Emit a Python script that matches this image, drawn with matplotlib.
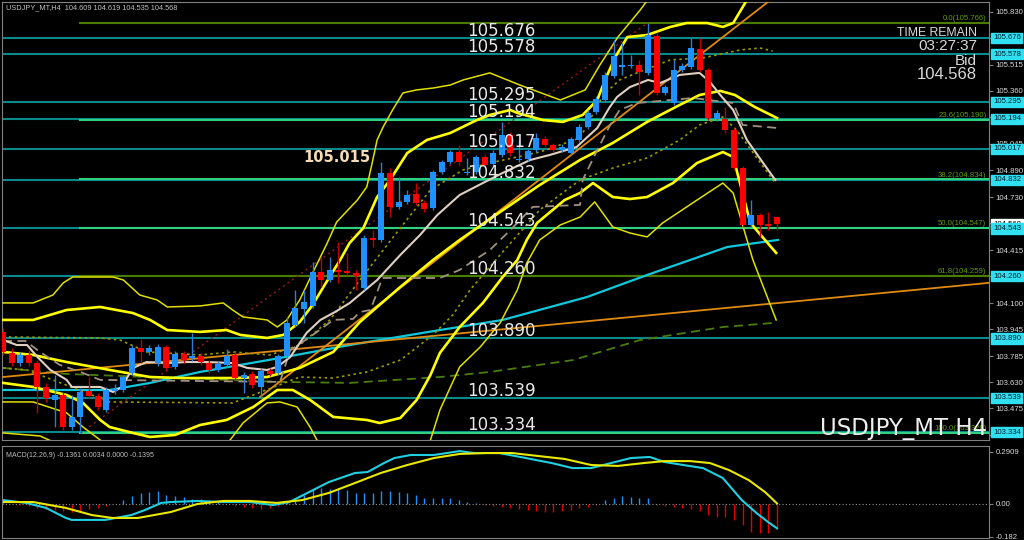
import numpy as np
import matplotlib.pyplot as plt

# ---- candles (H4 bars, index 0..90) ----
opens = [103.929, 103.804, 103.744, 103.792, 103.744, 103.602, 103.525, 103.554, 103.364, 103.424,
         103.578, 103.549, 103.465, 103.578, 103.584, 103.685, 103.834, 103.810, 103.744, 103.839,
         103.721, 103.798, 103.774, 103.786, 103.744, 103.703, 103.733, 103.792, 103.655, 103.679,
         103.602, 103.697, 103.685, 103.786, 103.970, 104.065, 104.083, 104.285, 104.237, 104.297,
         104.291, 104.279, 104.190, 104.487, 104.475, 104.873, 104.671, 104.700, 104.748, 104.695,
         104.665, 104.879, 104.938, 104.997, 104.873, 104.879, 104.968, 104.926, 104.980, 105.098,
         104.950, 104.956, 105.009, 105.075, 105.039, 105.009, 104.991, 105.069, 105.146, 105.235,
         105.306, 105.449, 105.502, 105.508, 105.514, 105.467, 105.686, 105.348, 105.288, 105.484,
         105.502, 105.609, 105.484, 105.193, 105.193, 105.128, 104.902, 104.564, 104.623, 104.570, 104.609]
highs = [103.952, 103.834, 103.810, 103.822, 103.762, 103.626, 103.673, 103.572, 103.554, 103.596,
         103.661, 103.566, 103.602, 103.620, 103.673, 103.851, 103.887, 103.851, 103.857, 103.851,
         103.816, 103.816, 103.923, 103.804, 103.762, 103.756, 103.828, 103.810, 103.691, 103.697,
         103.715, 103.715, 103.798, 104.018, 104.178, 104.178, 104.344, 104.374, 104.374, 104.463,
         104.398, 104.297, 104.505, 104.534, 104.938, 104.902, 104.849, 104.772, 104.813, 104.712,
         104.891, 104.950, 105.009, 105.039, 104.962, 104.980, 104.986, 105.009, 105.176, 105.116,
         105.069, 105.015, 105.110, 105.092, 105.051, 105.045, 105.086, 105.164, 105.247, 105.330,
         105.472, 105.662, 105.645, 105.573, 105.544, 105.766, 105.704, 105.395, 105.544, 105.526,
         105.674, 105.674, 105.496, 105.247, 105.265, 105.140, 104.914, 104.712, 104.635, 104.641, 104.619]
lows = [103.792, 103.727, 103.727, 103.727, 103.448, 103.513, 103.364, 103.347, 103.347, 103.328,
        103.537, 103.465, 103.454, 103.560, 103.572, 103.673, 103.744, 103.792, 103.727, 103.697,
        103.709, 103.744, 103.756, 103.733, 103.685, 103.691, 103.721, 103.644, 103.566, 103.596,
        103.543, 103.667, 103.673, 103.774, 103.958, 103.982, 104.071, 104.196, 104.226, 104.220,
        104.267, 104.178, 104.178, 104.433, 104.463, 104.611, 104.659, 104.689, 104.683, 104.641,
        104.653, 104.867, 104.926, 104.920, 104.861, 104.867, 104.908, 104.914, 104.968, 104.974,
        104.938, 104.944, 104.997, 105.027, 104.997, 104.997, 104.980, 105.057, 105.134, 105.223,
        105.294, 105.437, 105.455, 105.496, 105.336, 105.455, 105.336, 105.336, 105.277, 105.472,
        105.490, 105.472, 105.187, 105.181, 105.110, 104.891, 104.552, 104.552, 104.493, 104.534, 104.535]
closes = [103.810, 103.744, 103.792, 103.744, 103.602, 103.537, 103.554, 103.364, 103.424, 103.572,
          103.549, 103.483, 103.584, 103.590, 103.661, 103.834, 103.810, 103.834, 103.839, 103.715,
          103.798, 103.762, 103.786, 103.750, 103.703, 103.738, 103.786, 103.655, 103.673, 103.614,
          103.697, 103.679, 103.786, 103.982, 104.071, 104.107, 104.285, 104.237, 104.297, 104.285,
          104.279, 104.261, 104.487, 104.475, 104.873, 104.671, 104.700, 104.742, 104.695, 104.659,
          104.879, 104.938, 104.997, 104.938, 104.879, 104.968, 104.920, 104.991, 105.098, 104.991,
          104.956, 105.003, 105.081, 105.039, 105.009, 105.027, 105.075, 105.146, 105.229, 105.312,
          105.455, 105.567, 105.514, 105.514, 105.472, 105.692, 105.348, 105.383, 105.484, 105.508,
          105.615, 105.484, 105.199, 105.229, 105.128, 104.902, 104.564, 104.623, 104.564, 104.558, 104.568]

# ---- indicator lines (bar index, price) ----
cyan_x = [0, 12.4, 17.1, 22.9, 32.2, 40.3, 50.8, 58.1, 67.9, 74.9, 79.9, 84.2, 90.1]
cyan_y = [103.584, 103.584, 103.626, 103.691, 103.774, 103.851, 103.940, 104.000, 104.136, 104.267, 104.356, 104.433, 104.475]

beige_x = [0, 1.6, 2.8, 4.0, 5.5, 7.4, 8.0, 11.3, 12.8, 13.8, 15.1, 16.7, 19.1, 21.4, 23.7, 26.7, 28.4, 30.7,
           31.9, 33.4, 35.3, 36.9, 38.6, 40.3, 43.5, 46.2, 48.5, 50.5, 53.1, 55.8, 58.1, 61.3, 63.6, 66.7,
           69.1, 70.5, 71.4, 72.9, 75.0, 76.4, 78.7, 81.0, 82.2, 83.4, 84.9, 86.5, 88.0, 89.8]
beige_y = [103.881, 103.851, 103.851, 103.780, 103.703, 103.644, 103.602, 103.602, 103.572, 103.602, 103.715,
           103.750, 103.744, 103.750, 103.750, 103.744, 103.715, 103.703, 103.721, 103.780, 103.923, 104.000,
           104.047, 104.100, 104.237, 104.386, 104.505, 104.623, 104.742, 104.813, 104.873, 104.950, 104.980,
           105.027, 105.140, 105.260, 105.324, 105.383, 105.425, 105.407, 105.455, 105.467, 105.413, 105.336,
           105.247, 105.069, 104.960, 104.831]

kijun_x = [0, 2.6, 4.3, 6.6, 9.0, 11.3, 32.2, 33.4, 35.7, 38.4, 40.7, 41.5, 42.7, 43.3, 44.1, 50.8, 53.1,
           56.6, 59.0, 61.6, 67.1, 67.4, 69.1, 70.6, 71.7, 73.7, 80.2, 84.9, 86.0, 90.0]
kijun_y = [103.875, 103.875, 103.810, 103.733, 103.691, 103.644, 103.632, 103.821, 103.899, 104.000, 104.006,
           104.047, 104.059, 104.136, 104.249, 104.249, 104.297, 104.415, 104.534, 104.671, 104.683, 104.831,
           105.009, 105.158, 105.247, 105.288, 105.318, 105.288, 105.158, 105.140]

ma_long_x = [0, 7.4, 32.2, 40.3, 50.8, 56.6, 66.3, 74.1, 83.7, 89.5]
ma_long_y = [103.715, 103.679, 103.632, 103.626, 103.661, 103.691, 103.762, 103.881, 103.958, 103.982]

bb_mid_x = [0, 2.8, 12.4, 26.7, 34.5, 38.4, 42.3, 46.2, 50.0, 52.3, 54.3, 57.8, 62.4, 67.1, 70.9, 74.9,
            78.7, 81.0, 83.7, 85.3, 87.4, 89.8]
bb_mid_y = [103.715, 103.703, 103.513, 103.507, 103.661, 103.655, 103.691, 103.762, 103.911, 104.030, 104.178,
            104.386, 104.653, 104.831, 104.902, 104.962, 105.069, 105.158, 105.205, 105.128, 104.980, 104.813]

bb_dot_up_x = [0, 11.3, 13.6, 16.7, 22.9, 26.7, 31.0, 34.5, 38.0, 41.5, 46.2, 49.7, 53.5, 56.6, 62.4, 67.1,
               69.8, 71.7, 73.7, 77.6, 81.4, 85.7, 88.0, 89.5]
bb_dot_up_y = [103.899, 103.893, 103.881, 103.810, 103.792, 103.810, 103.792, 103.851, 104.000, 104.237, 104.546,
               104.772, 104.891, 104.932, 104.997, 105.081, 105.336, 105.425, 105.467, 105.544, 105.556, 105.603,
               105.615, 105.597]

bb_up1_x = [0, 3.5, 7.4, 12.4, 17.1, 20.9, 26.7, 30.7, 34.5, 38.4, 41.5, 46.2, 50.0, 53.1, 57.8, 62.4, 67.1,
            70.9, 74.9, 78.7, 81.0, 83.4, 85.1, 87.4, 90.0]
bb_up1_y = [103.810, 103.792, 103.750, 103.703, 103.661, 103.655, 103.655, 103.661, 103.715, 103.810, 103.988,
            104.196, 104.356, 104.475, 104.641, 104.801, 104.950, 105.051, 105.176, 105.277, 105.336, 105.360,
            105.336, 105.265, 105.199]

bb_dn1_x = [0, 3.5, 7.4, 9.3, 11.3, 12.4, 15.1, 17.1, 20.0, 22.9, 26.0, 29.1, 31.9, 33.7, 35.7, 38.4, 42.3,
            43.8, 46.2, 48.1, 49.7, 50.8, 53.1, 55.8, 58.1, 59.8, 60.9, 62.1, 65.3, 67.1, 68.6, 70.9, 72.9,
            74.9, 77.9, 80.7, 83.7, 84.9, 86.9, 89.9]
bb_dn1_y = [103.626, 103.602, 103.554, 103.507, 103.406, 103.364, 103.329, 103.305, 103.317, 103.376, 103.406,
            103.483, 103.584, 103.584, 103.525, 103.424, 103.406, 103.388, 103.418, 103.525, 103.673, 103.804,
            103.958, 104.101, 104.255, 104.356, 104.475, 104.576, 104.712, 104.754, 104.813, 104.730, 104.718,
            104.730, 104.813, 104.932, 104.997, 104.968, 104.576, 104.398]

bb_up2_x = [0, 3.5, 7.4, 11.3, 15.1, 17.1, 19.1, 22.9, 26.0, 27.6, 30.7, 32.6, 34.5, 36.0, 37.4, 39.2, 40.3,
            41.9, 43.5, 45.0, 47.0, 49.3, 52.0, 55.1, 56.6, 59.0, 59.8, 62.8, 65.1, 67.4, 69.1, 70.0, 71.2,
            72.6, 74.9, 77.6, 79.5, 81.9, 83.7, 84.9, 86.5, 87.4]
bb_up2_y = [104.000, 104.000, 104.059, 104.077, 104.041, 104.000, 103.940, 103.929, 103.940, 103.911, 103.893,
            103.911, 103.988, 104.089, 104.208, 104.356, 104.457, 104.546, 104.730, 104.831, 104.991, 105.069,
            105.110, 105.187, 105.217, 105.247, 105.229, 105.187, 105.176, 105.217, 105.306, 105.425, 105.562,
            105.680, 105.692, 105.740, 105.763, 105.763, 105.740, 105.763, 105.900, 105.971]

bb_dn2_x = [0, 3.5, 7.4, 9.3, 11.3, 13.0, 22.9, 26.4, 27.9, 30.7, 32.2, 34.2, 35.7, 36.5, 38.0, 47.9, 49.7,
            50.8, 53.1, 55.5, 57.8, 59.8, 60.9, 62.4, 64.8, 67.1, 68.8, 70.9, 72.9, 74.9, 76.7, 80.7, 83.7,
            84.9, 87.2, 89.9]
bb_dn2_y = [103.513, 103.513, 103.448, 103.364, 103.287, 103.198, 103.139, 103.287, 103.388, 103.507, 103.513,
            103.483, 103.364, 103.287, 103.168, 103.139, 103.287, 103.465, 103.721, 103.840, 103.982, 104.178,
            104.338, 104.475, 104.564, 104.611, 104.701, 104.552, 104.516, 104.493, 104.576, 104.712, 104.813,
            104.754, 104.356, 104.000]

bb_up3_x = [0, 3.5, 5.8, 7.0, 8.1, 12.8, 14.0, 15.9, 17.9, 19.1, 22.9, 25.6, 26.7, 27.9, 30.7, 31.9, 33.0,
            34.5, 36.0, 37.7, 38.8, 41.2, 42.3, 43.0, 43.5, 44.2, 45.3, 46.5, 48.1, 50.0, 52.0, 53.5, 56.6,
            60.1, 64.8, 67.7, 69.4, 71.5, 74.1, 75.8]
bb_up3_y = [104.101, 104.101, 104.148, 104.220, 104.255, 104.255, 104.237, 104.148, 104.119, 104.077, 104.083,
            104.101, 104.059, 104.018, 104.000, 103.958, 104.000, 104.119, 104.279, 104.457, 104.582, 104.712,
            104.790, 104.950, 105.069, 105.146, 105.247, 105.348, 105.366, 105.377, 105.395, 105.425, 105.467,
            105.395, 105.306, 105.366, 105.514, 105.680, 105.841, 105.959]

bb_dn3_x = [0, 4.3, 6.6]
bb_dn3_y = [103.329, 103.311, 103.258]

# trend lines: (bar, price) end points
trend_long_x = [0, 114.6]
trend_long_y = [103.661, 104.220]
trend_up_x = [29.9, 90.5]
trend_up_y = [103.543, 105.950]
fib_diag_x = [9, 75]
fib_diag_y = [103.328, 105.766]

# horizontal levels
levels = [105.676, 105.578, 105.295, 105.194, 105.017, 104.832, 104.543, 104.260, 103.890, 103.539, 103.334]
fib_pct = ['0.0', '23.6', '38.2', '50.0', '61.8', '100.0']
fib_val = [105.766, 105.190, 104.834, 104.547, 104.259, 103.328]
fib_col = ['#4a7c00', '#2fd080', '#2fd080', '#2fd080', '#4a7c00', '#2fd080']
price_ticks = [105.830, 105.675, 105.515, 105.360, 105.205, 105.045, 104.890, 104.730, 104.575,
               104.415, 104.260, 104.100, 103.945, 103.785, 103.630, 103.475, 103.315]

# ---- MACD panel ----
macd_x = [0, 2.7, 5.0, 7.3, 8.0, 11.9, 14.9, 16.5, 18.4, 19.5, 22.6, 25.6, 28.7, 31.4, 33.3, 35.6, 37.9,
          40.9, 42.4, 44.3, 45.5, 47.4, 50.1, 53.1, 54.7, 57.7, 60.8, 63.8, 66.2, 68.4, 70.7, 73.0, 75.2,
          76.9, 79.1, 81.4, 83.7, 85.9, 87.6, 89.1, 90]
macd_y = [0.022, 0.006, -0.022, -0.078, -0.089, -0.089, -0.062, -0.034, 0.006, 0.011, 0.017, 0.011, 0.011,
          -0.006, 0.011, 0.067, 0.123, 0.173, 0.179, 0.229, 0.257, 0.274, 0.274, 0.296, 0.285, 0.285, 0.257,
          0.229, 0.201, 0.201, 0.229, 0.257, 0.263, 0.235, 0.218, 0.201, 0.145, 0.022, -0.050, -0.106, -0.136]
signal_x = [0, 3.5, 7.3, 10.35, 12.7, 15.7, 19.5, 22.6, 25.6, 28.7, 31.8, 34.8, 37.9, 40.9, 43.9, 47.0,
            50.1, 53.1, 56.2, 59.2, 62.3, 65.3, 68.4, 71.5, 74.5, 76.9, 79.9, 82.2, 84.4, 86.7, 88.6, 90]
signal_y = [0.011, 0.011, -0.022, -0.062, -0.078, -0.078, -0.045, 0.0, 0.017, 0.017, 0.006, 0.022, 0.062,
            0.117, 0.173, 0.218, 0.257, 0.280, 0.285, 0.285, 0.268, 0.252, 0.218, 0.213, 0.229, 0.240, 0.240,
            0.229, 0.190, 0.134, 0.067, 0.0034]
hist = [0.005, 0.0, -0.005, -0.01, -0.02, -0.03, -0.035, -0.04, -0.045, -0.04,
        -0.03, -0.02, -0.01, 0.0, 0.022, 0.045, 0.06, 0.067, 0.07, 0.05,
        0.045, 0.04, 0.03, 0.028, 0.022, 0.01, 0.0, -0.01, -0.015, -0.02,
        -0.03, -0.02, -0.01, 0.01, 0.022, 0.05, 0.082, 0.088, 0.082, 0.088,
        0.078, 0.06, 0.063, 0.06, 0.074, 0.074, 0.069, 0.063, 0.05, 0.032,
        0.032, 0.032, 0.032, 0.022, 0.013, 0.005, -0.005, -0.01, -0.015, -0.02,
        -0.03, -0.035, -0.04, -0.045, -0.045, -0.04, -0.035, -0.025, -0.015, -0.005,
        0.02, 0.035, 0.045, 0.04, 0.035, 0.035, -0.005, -0.01, -0.015, -0.02,
        -0.03, -0.04, -0.06, -0.07, -0.075, -0.09, -0.12, -0.155, -0.165, -0.16, -0.1395]

GRID = '#808080'
TXT = '#d8d8d8'
NARROW = 'Liberation Sans'

fig = plt.figure(figsize=(10.24, 5.4), dpi=100, facecolor='black')
ax = fig.add_axes([2 / 1024, 100 / 540, 987 / 1024, 438 / 540])
ax.set_facecolor('black')
ax.set_xlim(-0.12, 114.65)
ax.set_ylim(103.287, 105.888)

# levels + fib
for lv in levels:
    ax.axhline(lv, color='#0a8a8a', lw=1.5, zorder=1)
for pct, v, c in zip(fib_pct, fib_val, fib_col):
    ax.plot([9, 114.65], [v, v], color=c, lw=1.5, zorder=1.2)
    ax.text(114.35, v + 0.005, f'{pct}({v:.3f})', color='#5f9a10', fontsize=5.6, family=NARROW,
            ha='right', va='bottom', zorder=6)
ax.plot(fib_diag_x, fib_diag_y, color='#9a1a1a', lw=1, ls=(0, (1.5, 2.5)), zorder=2)

# moving averages / bands
ax.plot(ma_long_x, ma_long_y, color='#4a7c10', lw=1.3, ls=(0, (5, 3)), zorder=2)
ax.plot(cyan_x, cyan_y, color='#10c8dc', lw=1.6, zorder=3)
ax.plot(trend_long_x, trend_long_y, color='#e08a10', lw=1.3, zorder=3)
ax.plot(trend_up_x, trend_up_y, color='#e08a10', lw=1.3, zorder=3)
ax.plot(bb_mid_x, bb_mid_y, color='#9a9a00', lw=1.2, ls=(0, (1.5, 2)), zorder=3)
ax.plot(bb_dot_up_x, bb_dot_up_y, color='#9a9a00', lw=1.2, ls=(0, (1.5, 2)), zorder=3)
ax.plot(bb_up3_x, bb_up3_y, color='#e0e000', lw=1.1, zorder=3)
ax.plot(bb_dn3_x, bb_dn3_y, color='#e0e000', lw=1.1, zorder=3)
ax.plot(bb_dn2_x, bb_dn2_y, color='#e0e000', lw=1.1, zorder=3)
ax.plot(bb_up2_x, bb_up2_y, color='#ffff00', lw=1.9, zorder=3)
ax.plot(bb_up1_x, bb_up1_y, color='#ffff00', lw=1.9, zorder=3)
ax.plot(bb_dn1_x, bb_dn1_y, color='#ffff00', lw=1.9, zorder=3)
ax.plot(kijun_x, kijun_y, color='#a09080', lw=1.3, ls=(0, (5, 3)), zorder=3)
ax.plot(beige_x, beige_y, color='#e0cfc0', lw=1.5, zorder=3)

# candles
idx = np.arange(len(opens))
o, h, l, c = map(np.array, (opens, highs, lows, closes))
up = c >= o
ax.vlines(idx[up], l[up], h[up], color='#2f7fd0', lw=1, zorder=4)
ax.vlines(idx[~up], l[~up], h[~up], color='#c00000', lw=1, zorder=4)
body_lo = np.minimum(o, c)
body_h = np.maximum(np.abs(c - o), 0.004)
ax.bar(idx[up], body_h[up], bottom=body_lo[up], width=0.7, color='#1e90ff', zorder=5)
ax.bar(idx[~up], body_h[~up], bottom=body_lo[~up], width=0.7, color='#ff0000', zorder=5)

# level labels on chart
for lv in levels:
    ax.text(54.0, lv + 0.012, f'{lv:.3f}', color='#e8e8e8', fontsize=12, ha='left', va='baseline', zorder=7)
ax.text(34.9, 104.962, '105.015', color='#f5dcb4', fontsize=10.5, fontweight='bold',
        ha='left', va='center', zorder=7)

# right price scale
ax.yaxis.tick_right()
ax.set_yticks(price_ticks)
ax.set_yticklabels([f'{t:.3f}' for t in price_ticks], family=NARROW)
ax.tick_params(axis='y', colors=GRID, labelcolor=TXT, labelsize=5.6, length=3, pad=1.5)
ax.set_xticks([])
for s in ax.spines.values():
    s.set_color(GRID)
bid = closes[-1]
ax.text(1.004, bid, f'{bid:.3f}', transform=ax.get_yaxis_transform(), fontsize=5.6, family=NARROW,
        color='black', va='center', ha='left', zorder=8,
        bbox=dict(boxstyle='square,pad=0.2', fc='white', ec='white'), clip_on=False)
for lv in levels:
    ax.text(1.004, lv, f'{lv:.3f}', transform=ax.get_yaxis_transform(), fontsize=5.6, family=NARROW,
            color='#002030', va='center', ha='left', zorder=9,
            bbox=dict(boxstyle='square,pad=0.2', fc='#30e0f0', ec='#30e0f0'), clip_on=False)

# header / info texts
ax.text(0.004, 0.994, 'USDJPY_MT,H4  104.609 104.619 104.535 104.568', transform=ax.transAxes,
        color='#c0c0c0', fontsize=5.3, family=NARROW, ha='left', va='top')
ax.text(0.988, 0.929, 'TIME REMAIN', transform=ax.transAxes, color=TXT, fontsize=8.8, family=NARROW,
        ha='right', va='center')
ax.text(0.988, 0.900, '03:27:37', transform=ax.transAxes, color=TXT, fontsize=11, family=NARROW,
        ha='right', va='center')
ax.text(0.988, 0.866, 'Bid', transform=ax.transAxes, color=TXT, fontsize=11, family=NARROW,
        ha='right', va='center')
ax.text(0.988, 0.834, '104.568', transform=ax.transAxes, color=TXT, fontsize=12, family=NARROW,
        ha='right', va='center')
ax.text(0.998, 0.0, 'USDJPY_MT H4', transform=ax.transAxes, color='#eeeeee', fontsize=16.5,
        ha='right', va='bottom', zorder=8)

# MACD panel
mx = fig.add_axes([2 / 1024, 2 / 540, 987 / 1024, 92 / 540])
mx.set_facecolor('black')
mx.set_xlim(-0.12, 114.65)
mx.set_ylim(-0.1902, 0.3244)
hv = np.array(hist)
hx = np.arange(len(hist))
mx.vlines(hx[hv >= 0], 0, hv[hv >= 0], color='#1e90ff', lw=1)
mx.vlines(hx[hv < 0], 0, hv[hv < 0], color='#e00000', lw=1)
mx.axhline(0, color='#909090', lw=0.8, ls=(0, (1, 2)))
mx.plot(macd_x, macd_y, color='#20d0e0', lw=1.5)
mx.plot(signal_x, signal_y, color='#e8e800', lw=1.5)
mx.yaxis.tick_right()
mx.set_yticks([0.2909, 0.0, -0.182])
mx.set_yticklabels(['0.2909', '0.00', '-0.182'], family=NARROW)
mx.tick_params(axis='y', colors=GRID, labelcolor=TXT, labelsize=5.6, length=3, pad=1.5)
mx.set_xticks([])
for s in mx.spines.values():
    s.set_color(GRID)
mx.text(0.004, 0.93, 'MACD(12,26,9) -0.1361 0.0034 0.0000 -0.1395', transform=mx.transAxes,
        color='#c0c0c0', fontsize=5.0, family=NARROW, ha='left', va='top')

fig.savefig('out.png', dpi=100, facecolor='black')
